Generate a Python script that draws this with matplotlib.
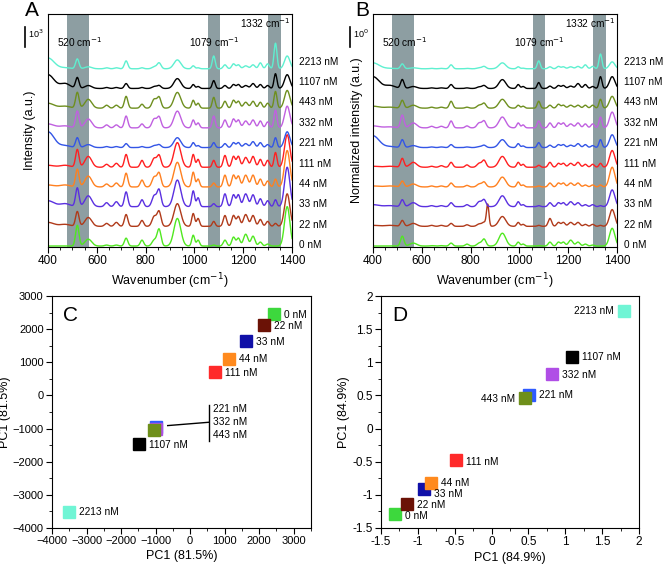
import numpy as np
import matplotlib
matplotlib.use('Agg')
import matplotlib.pyplot as plt
from matplotlib.ticker import MultipleLocator
from matplotlib.transforms import blended_transform_factory

plt.rcParams['font.family'] = ['Liberation Sans', 'DejaVu Sans']
plt.rcParams['font.size'] = 8

# concentrations, bottom trace first
conc = ['0 nM', '22 nM', '33 nM', '44 nM', '111 nM', '221 nM', '332 nM', '443 nM', '1107 nM', '2213 nM']
line_colors = ['#50e820', '#b03a1a', '#5a30e0', '#ff8020', '#ff2020',
               '#3355e6', '#c060e0', '#6e8f1f', '#000000', '#5ef0d0']
marker_colors = ['#3dd83d', '#6b1206', '#1010a8', '#ff8a1e', '#ff2a2a',
                 '#2f5bff', '#b04ee6', '#6e8f1a', '#000000', '#70f5d5']

# Raman bands (cm-1), band widths and heights per trace
peak_pos = [400, 470, 520, 565, 640, 680, 720, 785, 835, 855, 870, 930,
            995, 1015, 1079, 1125, 1160, 1180, 1210, 1240, 1270, 1300, 1332, 1380]
peak_w = [25, 20, 7, 14, 8, 8, 7, 7, 9, 8, 5, 14,
          6, 6, 6, 7, 7, 7, 9, 8, 7, 7, 6, 11]

heights_A = {
    '0 nM':    [0.0, 0.0, 1.05, 0.35, 0.05, 0.05, 0.4, 0.3, 0.3, 0.85, 0, 1.4, 0.55, 0.3, 0.05, 0.3, 0.45, 0.4, 0.6, 0.5, 0.2, 0.1, 0.0, 2.0],
    '22 nM':   [0.2, 0.1, 0.75, 0.45, 0.15, 0.2, 0.6, 0.3, 0.5, 0.75, 0, 1.15, 0.65, 0.4, 0.25, 0.55, 0.55, 0.5, 0.6, 0.55, 0.35, 0.25, 0.15, 1.65],
    '33 nM':   [0.3, 0.15, 0.95, 0.55, 0.2, 0.25, 0.75, 0.35, 0.55, 0.85, 0, 1.35, 0.8, 0.45, 0.15, 0.65, 0.6, 0.6, 0.65, 0.6, 0.4, 0.3, 0.35, 2.0],
    '44 nM':   [0.1, 0.1, 0.9, 0.55, 0.15, 0.2, 0.7, 0.35, 0.5, 0.7, 0, 1.25, 0.75, 0.4, 0.2, 0.6, 0.6, 0.55, 0.6, 0.6, 0.4, 0.3, 0.4, 1.85],
    '111 nM':  [0.1, 0.1, 0.9, 0.55, 0.15, 0.2, 0.65, 0.35, 0.45, 0.6, 0, 1.25, 0.65, 0.4, 0.35, 0.6, 0.55, 0.55, 0.5, 0.55, 0.4, 0.35, 0.75, 1.65],
    '221 nM':  [0.8, 0.1, 0.5, 0.15, 0.05, 0.05, 0.2, 0.05, 0.1, 0.15, 0, 0.5, 0.25, 0.1, 0.25, 0.2, 0.25, 0.25, 0.2, 0.3, 0.25, 0.15, 0.5, 0.8],
    '332 nM':  [0.2, 0.1, 0.85, 0.45, 0.15, 0.15, 0.6, 0.2, 0.45, 0.55, 0, 0.85, 0.4, 0.25, 0.6, 0.4, 0.45, 0.4, 0.35, 0.4, 0.35, 0.3, 0.9, 1.1],
    '443 nM':  [0.25, 0.1, 0.8, 0.45, 0.15, 0.15, 0.6, 0.2, 0.45, 0.55, 0, 0.8, 0.4, 0.25, 0.55, 0.35, 0.4, 0.35, 0.3, 0.35, 0.3, 0.25, 0.85, 0.9],
    '1107 nM': [0.7, 0.25, 0.55, 0.15, 0.05, 0.05, 0.25, 0.05, 0.1, 0.15, 0, 0.5, 0.2, 0.1, 0.4, 0.15, 0.2, 0.2, 0.15, 0.25, 0.2, 0.15, 0.75, 0.7],
    '2213 nM': [0.55, 0.05, 0.5, 0.1, 0.05, 0.05, 0.4, 0.05, 0.1, 0.3, 0, 0.45, 0.15, 0.05, 0.65, 0.2, 0.25, 0.2, 0.15, 0.2, 0.3, 0.25, 1.3, 0.65],
}

heights_B = {
    '0 nM':    [0.0, 0.0, 0.5, 0.15, 0.02, 0.02, 0.15, 0.1, 0.15, 0.35, 0, 0.65, 0.2, 0.1, 0.02, 0.2, 0.2, 0.2, 0.3, 0.2, 0.1, 0.05, 0.0, 0.9],
    '22 nM':   [0.05, 0.05, 0.3, 0.15, 0.05, 0.05, 0.15, 0.08, 0.12, 0.2, 1.1, 0.5, 0.2, 0.1, 0.05, 0.4, 0.2, 0.2, 0.2, 0.2, 0.1, 0.1, 0.05, 0.85],
    '33 nM':   [0.1, 0.05, 0.35, 0.2, 0.05, 0.05, 0.2, 0.1, 0.25, 0.35, 0, 0.55, 0.25, 0.1, 0.05, 0.2, 0.2, 0.2, 0.25, 0.2, 0.1, 0.1, 0.05, 0.85],
    '44 nM':   [0.05, 0.05, 0.3, 0.15, 0.05, 0.05, 0.2, 0.08, 0.15, 0.25, 0, 0.5, 0.25, 0.1, 0.05, 0.2, 0.2, 0.2, 0.2, 0.2, 0.1, 0.1, 0.1, 1.0],
    '111 nM':  [0.05, 0.05, 0.45, 0.25, 0.05, 0.08, 0.25, 0.12, 0.2, 0.35, 0, 0.55, 0.25, 0.15, 0.1, 0.25, 0.2, 0.2, 0.2, 0.25, 0.15, 0.15, 0.2, 0.85],
    '221 nM':  [0.6, 0.05, 0.4, 0.1, 0.03, 0.03, 0.15, 0.03, 0.05, 0.12, 0, 0.4, 0.2, 0.08, 0.25, 0.12, 0.15, 0.15, 0.12, 0.2, 0.15, 0.1, 0.4, 0.65],
    '332 nM':  [0.1, 0.05, 0.65, 0.25, 0.08, 0.08, 0.35, 0.1, 0.25, 0.35, 0, 0.55, 0.25, 0.15, 0.35, 0.25, 0.25, 0.25, 0.2, 0.25, 0.2, 0.2, 0.55, 0.8],
    '443 nM':  [0.1, 0.05, 0.4, 0.15, 0.05, 0.05, 0.35, 0.05, 0.15, 0.25, 0, 0.45, 0.15, 0.1, 0.35, 0.15, 0.2, 0.15, 0.15, 0.15, 0.15, 0.15, 0.45, 0.6],
    '1107 nM': [0.6, 0.15, 0.45, 0.1, 0.03, 0.03, 0.2, 0.03, 0.08, 0.15, 0, 0.45, 0.2, 0.1, 0.3, 0.12, 0.15, 0.15, 0.12, 0.25, 0.2, 0.1, 0.6, 0.6],
    '2213 nM': [0.3, 0.02, 0.25, 0.05, 0.02, 0.02, 0.2, 0.02, 0.05, 0.12, 0, 0.3, 0.1, 0.03, 0.4, 0.1, 0.12, 0.1, 0.1, 0.12, 0.2, 0.12, 0.75, 0.35],
}

# PCA scores
pc_C_x = [2440, 2130, 1630, 1130, 710, -980, -1000, -1055, -1490, -3510]
pc_C_y = [2450, 2130, 1635, 1110, 710, -955, -1000, -1055, -1480, -3505]
pc_D_x = [-1.305, -1.145, -0.92, -0.82, -0.48, 0.505, 0.82, 0.455, 1.085, 1.795]
pc_D_y = [-1.295, -1.135, -0.91, -0.815, -0.475, 0.51, 0.82, 0.455, 1.085, 1.78]

bands = [(476, 567), (1056, 1104), (1303, 1353)]
band_labels = ['520 cm$^{-1}$', '1079 cm$^{-1}$', '1332 cm$^{-1}$']

wn = np.linspace(400, 1400, 1001)

TICK_FS = 8.5
LABEL_FS = 9


def spectrum(h):
    y = np.zeros_like(wn)
    for c, w, a in zip(peak_pos, peak_w, h):
        y += a * np.exp(-0.5 * ((wn - c) / w) ** 2)
    return y


def spectra_panel(ax, heights, ylabel, scale_txt, ylab_x):
    tr = blended_transform_factory(ax.transAxes, ax.transData)
    for (lo, hi) in bands:
        ax.axvspan(lo, hi, color='#8d9ea2', lw=0, zorder=0)
    for i, c in enumerate(conc):
        ax.plot(wn, spectrum(heights[c]) + i, color=line_colors[i], lw=1.0)
        ax.text(1.027, i * 1.035 + 0.05, c, transform=tr,
                va='center', ha='left', fontsize=7.2, clip_on=False)
    ax.text(530, 10.35, band_labels[0], ha='center', va='center', fontsize=7.3)
    ax.text(1083, 10.35, band_labels[1], ha='center', va='center', fontsize=7.3)
    ax.text(1290, 11.3, band_labels[2], ha='center', va='center', fontsize=7.3)
    ax.set_xlim(400, 1400)
    ax.set_ylim(-0.05, 11.78)
    ax.set_yticks([])
    ax.xaxis.set_major_locator(MultipleLocator(200))
    ax.xaxis.set_minor_locator(MultipleLocator(50))
    ax.tick_params(axis='x', which='major', direction='out', length=4, labelsize=TICK_FS, pad=2)
    ax.tick_params(axis='x', which='minor', direction='out', length=2)
    ax.set_xlabel('Wavenumber (cm$^{-1}$)', fontsize=LABEL_FS, labelpad=3)
    ax.set_ylabel(ylabel, fontsize=LABEL_FS)
    ax.yaxis.set_label_coords(ylab_x, 0.5)
    ax.plot([-0.095, -0.095], [10.1, 11.1], color='black', lw=1.2, transform=tr, clip_on=False)
    ax.text(-0.08, 10.75, scale_txt, transform=tr, fontsize=6.5, va='center', ha='left')


def pca_panel(ax, xs, ys, offsets, tick_fs):
    for i, c in enumerate(conc):
        ax.plot(xs[i], ys[i], 's', color=marker_colors[i], ms=9, mec=marker_colors[i])
    for c, (dx, dy, ha) in offsets.items():
        i = conc.index(c)
        ax.annotate(c, (xs[i], ys[i]), xytext=(dx, dy), textcoords='offset points',
                    ha=ha, va='center', fontsize=7.3)
    ax.tick_params(which='major', direction='out', length=4, labelsize=tick_fs, pad=2)
    ax.tick_params(which='minor', direction='out', length=2)


fig = plt.figure(figsize=(6.65, 5.65), dpi=100)

axA = fig.add_axes([0.0722, 0.5628, 0.367, 0.4124])
spectra_panel(axA, heights_A, 'Intensity (a.u.)', '10$^3$', -0.05)
axB = fig.add_axes([0.5609, 0.5628, 0.367, 0.4124])
spectra_panel(axB, heights_B, 'Normalized intensity (a.u.)', '10$^0$', -0.04)
fig.text(0.048, 0.982, 'A', fontsize=15, ha='center', va='center')
fig.text(0.544, 0.982, 'B', fontsize=15, ha='center', va='center')

axC = fig.add_axes([0.0782, 0.0655, 0.3895, 0.4106])
offs_C = {c: (7.2, -0.5, 'left') for c in ['0 nM', '22 nM', '33 nM', '44 nM', '111 nM', '1107 nM', '2213 nM']}
pca_panel(axC, pc_C_x, pc_C_y, offs_C, 8)
axC.plot([-650, 540], [-910, -810], color='black', lw=1)
axC.plot([540, 540], [-290, -1370], color='black', lw=1)
for lab, yy in zip(['221 nM', '332 nM', '443 nM'], [-405, -805, -1190]):
    axC.text(660, yy, lab, fontsize=7.3, va='center', ha='left')
axC.set_xlim(-4000, 3500)
axC.set_ylim(-4000, 3000)
axC.xaxis.set_major_locator(MultipleLocator(1000))
axC.xaxis.set_minor_locator(MultipleLocator(500))
axC.yaxis.set_major_locator(MultipleLocator(1000))
axC.yaxis.set_minor_locator(MultipleLocator(500))
axC.set_xlabel('PC1 (81.5%)', fontsize=LABEL_FS, labelpad=3)
axC.set_ylabel('PC1 (81.5%)', fontsize=LABEL_FS)
axC.yaxis.set_label_coords(-0.157, 0.5)
axC.text(0.073, 0.915, 'C', transform=axC.transAxes, fontsize=15, ha='center', va='center')

axD = fig.add_axes([0.5729, 0.0655, 0.388, 0.4106])
offs_D = {'2213 nM': (-7.2, -0.5, 'right'), '1107 nM': (7.2, -0.5, 'left'),
          '332 nM': (7.2, -0.5, 'left'), '221 nM': (7.2, -0.5, 'left'),
          '443 nM': (-7.2, -0.5, 'right'), '111 nM': (7.2, -1.2, 'left'),
          '44 nM': (7.2, -0.5, 'left'), '33 nM': (7.2, -4, 'left'),
          '22 nM': (7.2, -0.7, 'left'), '0 nM': (7.2, -1, 'left')}
pca_panel(axD, pc_D_x, pc_D_y, offs_D, TICK_FS)
axD.set_xlim(-1.5, 2)
axD.set_ylim(-1.5, 2)
axD.xaxis.set_major_locator(MultipleLocator(0.5))
axD.xaxis.set_minor_locator(MultipleLocator(0.25))
axD.yaxis.set_major_locator(MultipleLocator(0.5))
axD.yaxis.set_minor_locator(MultipleLocator(0.25))
axD.xaxis.set_major_formatter(plt.FuncFormatter(lambda v, p: '%g' % v))
axD.yaxis.set_major_formatter(plt.FuncFormatter(lambda v, p: '%g' % v))
axD.set_xlabel('PC1 (84.9%)', fontsize=LABEL_FS, labelpad=3)
axD.set_ylabel('PC1 (84.9%)', fontsize=LABEL_FS)
axD.yaxis.set_label_coords(-0.12, 0.5)
axD.text(0.074, 0.915, 'D', transform=axD.transAxes, fontsize=15, ha='center', va='center')

fig.savefig('out.png', dpi=100)
